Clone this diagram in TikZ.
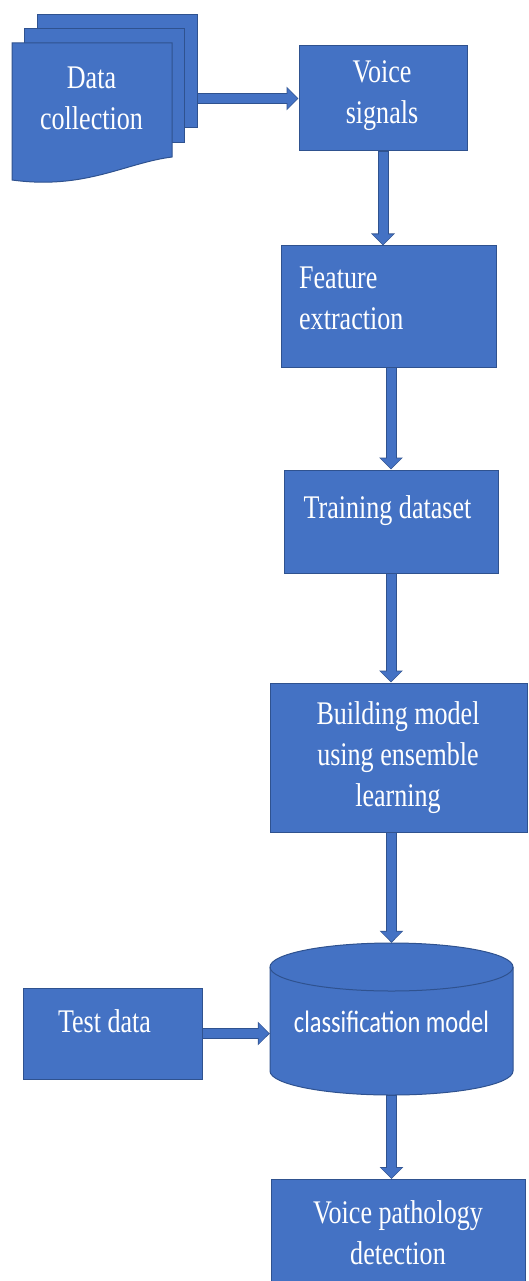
\documentclass[tikz,border=0pt]{standalone}
\usepackage{fontspec}
\setmainfont{Liberation Serif}
\newfontfamily\carlitofont{Carlito}
\usetikzlibrary{arrows.meta}
\definecolor{bfill}{HTML}{4472C4}
\definecolor{bline}{HTML}{2F528F}
\tikzset{
  box/.style={draw=bline, fill=bfill, line width=1pt, inner sep=0pt},
  lbl/.style={text=white, font=\fontsize{33}{41}\selectfont, inner sep=0pt, xscale=0.79, transform shape},
  arrout/.style={draw=bline, line width=11pt, -{Triangle[width=23pt,length=12pt]}},
  arrin/.style={draw=bfill, line width=9pt, -{Triangle[width=20pt,length=10pt]}, shorten >=1.2pt, shorten <=0.6pt}
}
\begin{document}
\begin{tikzpicture}[x=1pt,y=1pt]
\useasboundingbox (0,0) rectangle (528,-1281);
% multidocument
\draw[box] (37,-15) rectangle (197,-128);
\draw[box] (24,-29) rectangle (184,-143);
\draw[box] (12,-43) -- (172,-43) -- (172,-157) .. controls (125,-163) and (85,-190) .. (12,-180) -- cycle;
\node[inner sep=0pt, minimum width=185pt, minimum height=139pt] (dc) at (104.5,-98.5) {};
\node[lbl, align=center] at (91.5,-98.5) {Data\\collection};
% boxes
\node[box, minimum width=168pt, minimum height=105pt] (vs) at (383,-98.5) {};
\node[lbl, align=center] at (382,-95.5) {Voice\\signals};
\node[box, minimum width=215pt, minimum height=121pt] (fe) at (388.5,-306.5) {};
\node[lbl, align=left, anchor=west] at (299,-298.5) {Feature\\extraction};
\node[box, minimum width=214pt, minimum height=103pt] (tr) at (391,-521.5) {};
\node[lbl, anchor=base] at (387.5,-518) {Training dataset};
\node[box, minimum width=257pt, minimum height=149pt] (bm) at (398.5,-757.5) {};
\node[lbl, align=center] at (398,-757.5) {Building model\\using ensemble\\learning};
\node[box, minimum width=179pt, minimum height=91pt] (td) at (112.5,-1033.5) {};
\node[lbl, anchor=base] at (104.5,-1032) {Test data};
\node[box, minimum width=254pt, minimum height=130pt, anchor=north] (vp) at (398,-1179) {};
\node[lbl, align=center] at (398,-1233) {Voice pathology\\detection};
% cylinder
\node[inner sep=0pt, minimum width=243pt, minimum height=152pt] (cyl) at (391.5,-1019) {};
\draw[box] (270,-967) -- (270,-1071) arc (180:360:121.5 and 24) -- (513,-967) arc (0:180:121.5 and 24) -- cycle;
\draw[bline, line width=1pt] (270,-967) arc (180:360:121.5 and 24);
\node[text=white, font=\fontsize{31}{37}\carlitofont, inner sep=0pt, xscale=0.79, transform shape, anchor=base] at (391.5,-1032) {classification model};
% arrows
\foreach \s in {arrout,arrin}{
  \draw[\s] (dc.east) -- (dc.east -| vs.west);
  \draw[\s] (vs.south) -- (vs.south |- fe.north);
  \draw[\s] (fe.south -| tr.north) -- (tr.north);
  \draw[\s] (tr.south) -- (tr.south |- bm.north);
  \draw[\s] (bm.south -| cyl.north) -- (cyl.north);
  \draw[\s] (td.east) -- (td.east -| cyl.west);
  \draw[\s] (cyl.south) -- (cyl.south |- vp.north);
}
\end{tikzpicture}
\end{document}
